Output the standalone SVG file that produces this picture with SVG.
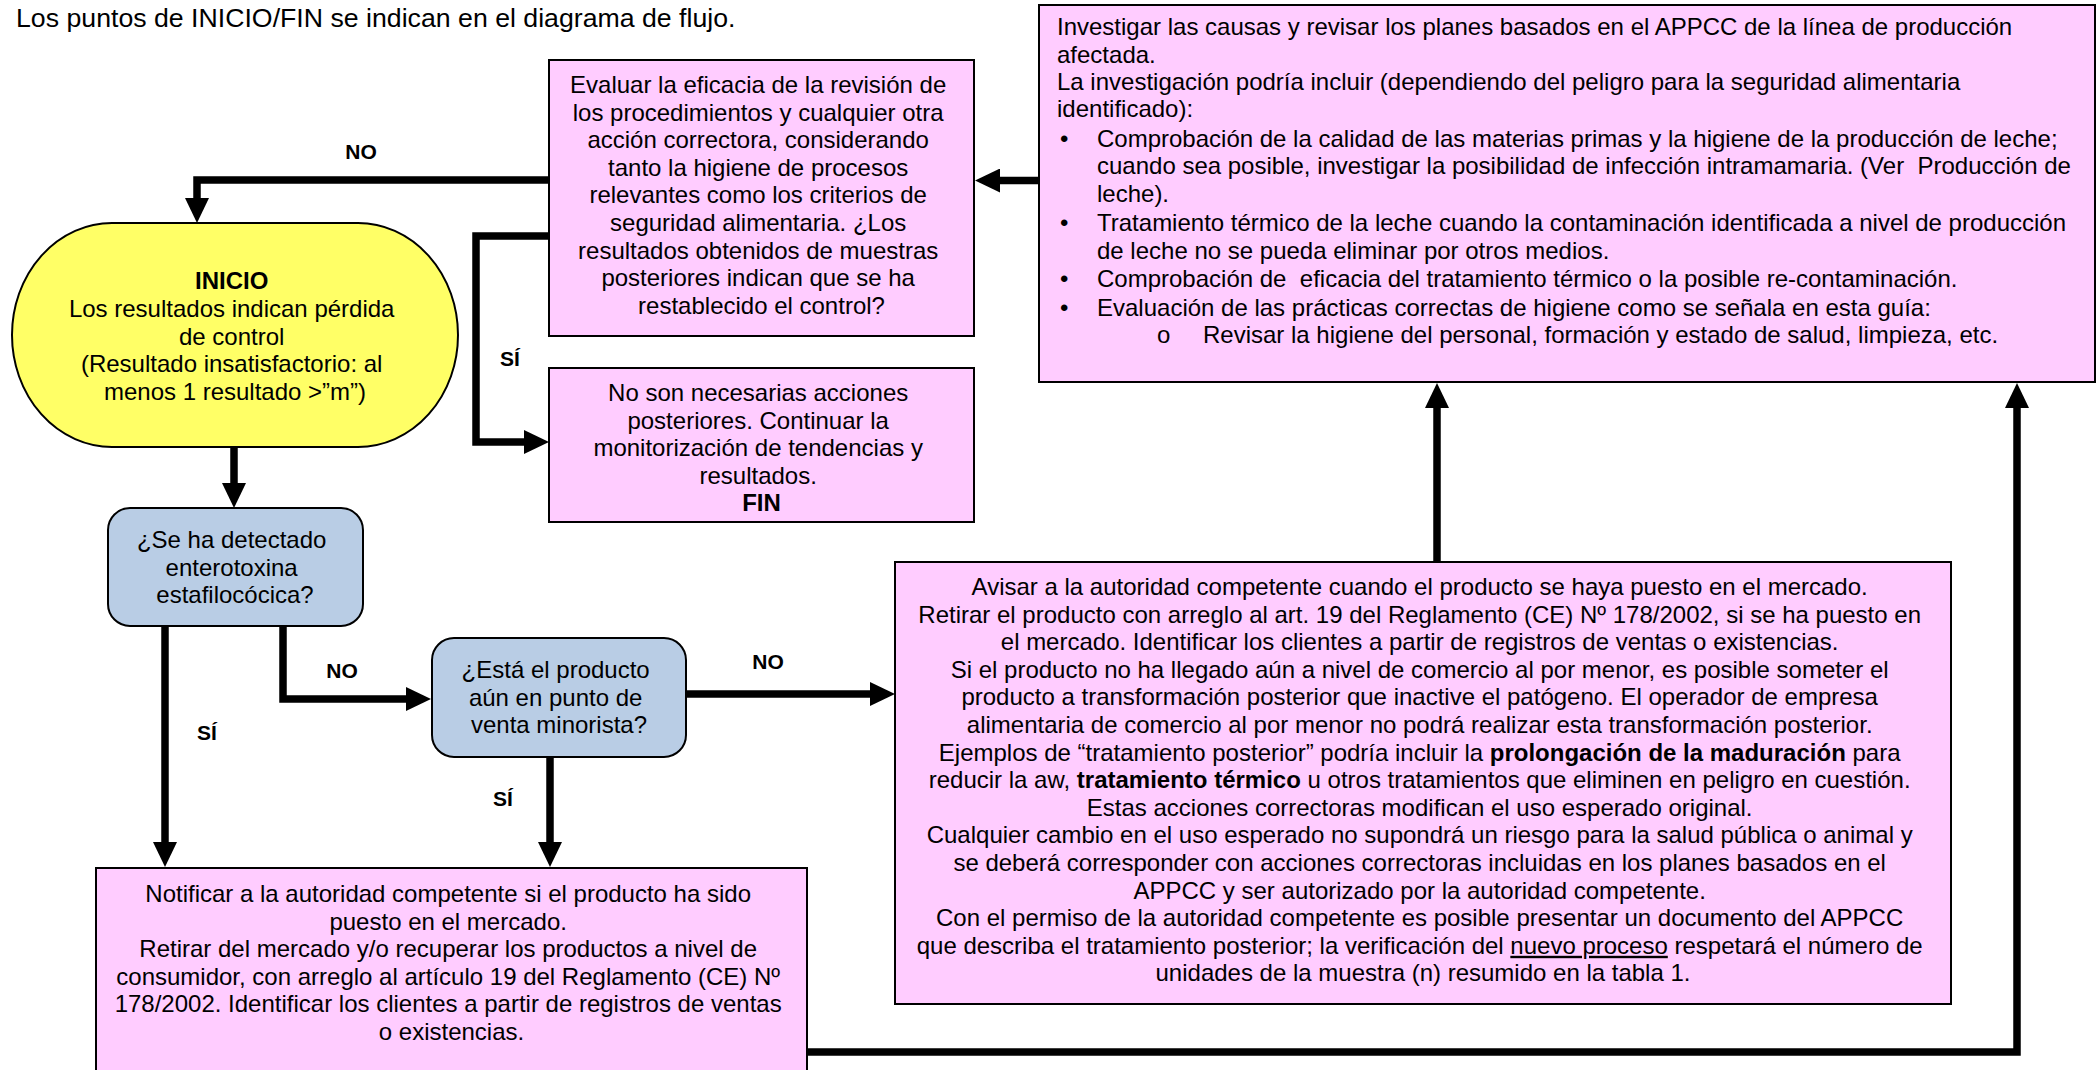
<svg xmlns="http://www.w3.org/2000/svg" width="2098" height="1070" viewBox="0 0 2098 1070">
<style>
text{font-family:"Liberation Sans",Arial,sans-serif;font-size:24px;fill:#000}
.c{text-anchor:middle}
.b{font-weight:bold}
.lbl{font-weight:bold;font-size:21px;text-anchor:middle}
.pink{fill:#FFCCFF;stroke:#000;stroke-width:2}
.blue{fill:#B9CDE5;stroke:#000;stroke-width:2}
.yellow{fill:#FFFF66;stroke:#000;stroke-width:2}
.con{fill:none;stroke:#000;stroke-width:7.5;stroke-linejoin:miter;marker-end:url(#ah)}
</style>
<defs>
<marker id="ah" viewBox="0 0 25 24" refX="1" refY="12" markerWidth="25" markerHeight="24" markerUnits="userSpaceOnUse" orient="auto">
<path d="M0,0 L25,12 L0,24 z" fill="#000"/>
</marker>
</defs>
<rect width="2098" height="1070" fill="#fff"/>
<text x="16" y="27" style="font-size:26.7px">Los puntos de INICIO/FIN se indican en el diagrama de flujo.</text>

<g id="connectors">
<path class="con" d="M1039,180.5 H999"/>
<path class="con" d="M549,180 H197 V199"/>
<path class="con" d="M549,236 H476 V442 H525"/>
<path class="con" d="M234,447 V484"/>
<path class="con" d="M165,626 V843"/>
<path class="con" d="M283,626 V699 H407"/>
<path class="con" d="M686,694 H871"/>
<path class="con" d="M550,757 V843"/>
<path class="con" d="M1437,562 V407"/>
<path class="con" d="M807,1052 H2017 V407"/>
</g>
<g id="labels">
<text class="lbl" x="361" y="159">NO</text>
<text class="lbl" x="510" y="366">SÍ</text>
<text class="lbl" x="342" y="678">NO</text>
<text class="lbl" x="207" y="740">SÍ</text>
<text class="lbl" x="503" y="806">SÍ</text>
<text class="lbl" x="768" y="669">NO</text>
</g>

<g id="evaluar">
<rect class="pink" x="549" y="60" width="425" height="276"/>
<text class="c" x="761.5" y="93">
<tspan x="761.5">Evaluar la eficacia de la revisión de</tspan>
<tspan x="761.5" dy="27.6">los procedimientos y cualquier otra</tspan>
<tspan x="761.5" dy="27.6">acción correctora, considerando</tspan>
<tspan x="761.5" dy="27.6">tanto la higiene de procesos</tspan>
<tspan x="761.5" dy="27.6">relevantes como los criterios de</tspan>
<tspan x="761.5" dy="27.6">seguridad alimentaria. ¿Los</tspan>
<tspan x="761.5" dy="27.6">resultados obtenidos de muestras</tspan>
<tspan x="761.5" dy="27.6">posteriores indican que se ha</tspan>
<tspan x="761.5" dy="27.6">restablecido el control?</tspan>
</text>
</g>

<g id="fin">
<rect class="pink" x="549" y="368" width="425" height="154"/>
<text class="c" x="761.5" y="401">
<tspan x="761.5">No son necesarias acciones</tspan>
<tspan x="761.5" dy="27.6">posteriores. Continuar la</tspan>
<tspan x="761.5" dy="27.6">monitorización de tendencias y</tspan>
<tspan x="761.5" dy="27.6">resultados.</tspan>
<tspan x="761.5" dy="27.6" class="b">FIN</tspan>
</text>
</g>

<g id="investigar">
<rect class="pink" x="1039" y="5" width="1056" height="377"/>
<text x="1057" y="35" xml:space="preserve">Investigar las causas y revisar los planes basados en el APPCC de la línea de producción</text>
<text x="1057" y="63">afectada.</text>
<text x="1057" y="90">La investigación podría incluir (dependiendo del peligro para la seguridad alimentaria</text>
<text x="1057" y="117">identificado):</text>
<text x="1060" y="147">•</text>
<text x="1097" y="147">Comprobación de la calidad de las materias primas y la higiene de la producción de leche;</text>
<text x="1097" y="174" xml:space="preserve">cuando sea posible, investigar la posibilidad de infección intramamaria. (Ver  Producción de</text>
<text x="1097" y="202">leche).</text>
<text x="1060" y="231">•</text>
<text x="1097" y="231">Tratamiento térmico de la leche cuando la contaminación identificada a nivel de producción</text>
<text x="1097" y="259">de leche no se pueda eliminar por otros medios.</text>
<text x="1060" y="287">•</text>
<text x="1097" y="287" xml:space="preserve">Comprobación de  eficacia del tratamiento térmico o la posible re-contaminación.</text>
<text x="1060" y="316">•</text>
<text x="1097" y="316">Evaluación de las prácticas correctas de higiene como se señala en esta guía:</text>
<text x="1157" y="343">o</text>
<text x="1203" y="343">Revisar la higiene del personal, formación y estado de salud, limpieza, etc.</text>
</g>

<g id="inicio">
<rect class="yellow" x="12" y="223" width="446" height="224" rx="100" ry="112"/>
<text class="c" x="235" y="289">
<tspan x="235" class="b">INICIO</tspan>
<tspan x="235" dy="27.8">Los resultados indican pérdida</tspan>
<tspan x="235" dy="27.8">de control</tspan>
<tspan x="235" dy="27.8">(Resultado insatisfactorio: al</tspan>
<tspan x="235" dy="27.8">menos 1 resultado &gt;”m”)</tspan>
</text>
</g>

<g id="enterotoxina">
<rect class="blue" x="108" y="508" width="255" height="118" rx="22"/>
<text class="c" x="235" y="548">
<tspan x="235">¿Se ha detectado</tspan>
<tspan x="235" dy="27.5">enterotoxina</tspan>
<tspan x="235" dy="27.5">estafilocócica?</tspan>
</text>
</g>

<g id="minorista">
<rect class="blue" x="432" y="638" width="254" height="119" rx="22"/>
<text class="c" x="559" y="678">
<tspan x="559">¿Está el producto</tspan>
<tspan x="559" dy="27.5">aún en punto de</tspan>
<tspan x="559" dy="27.5">venta minorista?</tspan>
</text>
</g>

<g id="notificar">
<rect class="pink" x="96" y="868" width="711" height="210"/>
<text class="c" x="451.5" y="902">
<tspan x="451.5">Notificar a la autoridad competente si el producto ha sido</tspan>
<tspan x="451.5" dy="27.5">puesto en el mercado.</tspan>
<tspan x="451.5" dy="27.5">Retirar del mercado y/o recuperar los productos a nivel de</tspan>
<tspan x="451.5" dy="27.5">consumidor, con arreglo al artículo 19 del Reglamento (CE) Nº</tspan>
<tspan x="451.5" dy="27.5">178/2002. Identificar los clientes a partir de registros de ventas</tspan>
<tspan x="451.5" dy="27.5">o existencias.</tspan>
</text>
</g>

<g id="avisar">
<rect class="pink" x="895" y="562" width="1056" height="442"/>
<text class="c" x="1423" y="595">
<tspan x="1423">Avisar a la autoridad competente cuando el producto se haya puesto en el mercado.</tspan>
<tspan x="1423" dy="27.6">Retirar el producto con arreglo al art. 19 del Reglamento (CE) Nº 178/2002, si se ha puesto en</tspan>
<tspan x="1423" dy="27.6">el mercado. Identificar los clientes a partir de registros de ventas o existencias.</tspan>
<tspan x="1423" dy="27.6">Si el producto no ha llegado aún a nivel de comercio al por menor, es posible someter el</tspan>
<tspan x="1423" dy="27.6">producto a transformación posterior que inactive el patógeno. El operador de empresa</tspan>
<tspan x="1423" dy="27.6">alimentaria de comercio al por menor no podrá realizar esta transformación posterior.</tspan>
<tspan x="1423" dy="27.6">Ejemplos de “tratamiento posterior” podría incluir la <tspan class="b">prolongación de la maduración</tspan> para</tspan>
<tspan x="1423" dy="27.6">reducir la aw, <tspan class="b">tratamiento térmico</tspan> u otros tratamientos que eliminen en peligro en cuestión.</tspan>
<tspan x="1423" dy="27.6">Estas acciones correctoras modifican el uso esperado original.</tspan>
<tspan x="1423" dy="27.6">Cualquier cambio en el uso esperado no supondrá un riesgo para la salud pública o animal y</tspan>
<tspan x="1423" dy="27.6">se deberá corresponder con acciones correctoras incluidas en los planes basados en el</tspan>
<tspan x="1423" dy="27.6">APPCC y ser autorizado por la autoridad competente.</tspan>
<tspan x="1423" dy="27.6">Con el permiso de la autoridad competente es posible presentar un documento del APPCC</tspan>
<tspan x="1423" dy="27.6">que describa el tratamiento posterior; la verificación del <tspan text-decoration="underline">nuevo proceso</tspan> respetará el número de</tspan>
<tspan x="1423" dy="27.6">unidades de la muestra (n) resumido en la tabla 1.</tspan>
</text>
</g>
</svg>
